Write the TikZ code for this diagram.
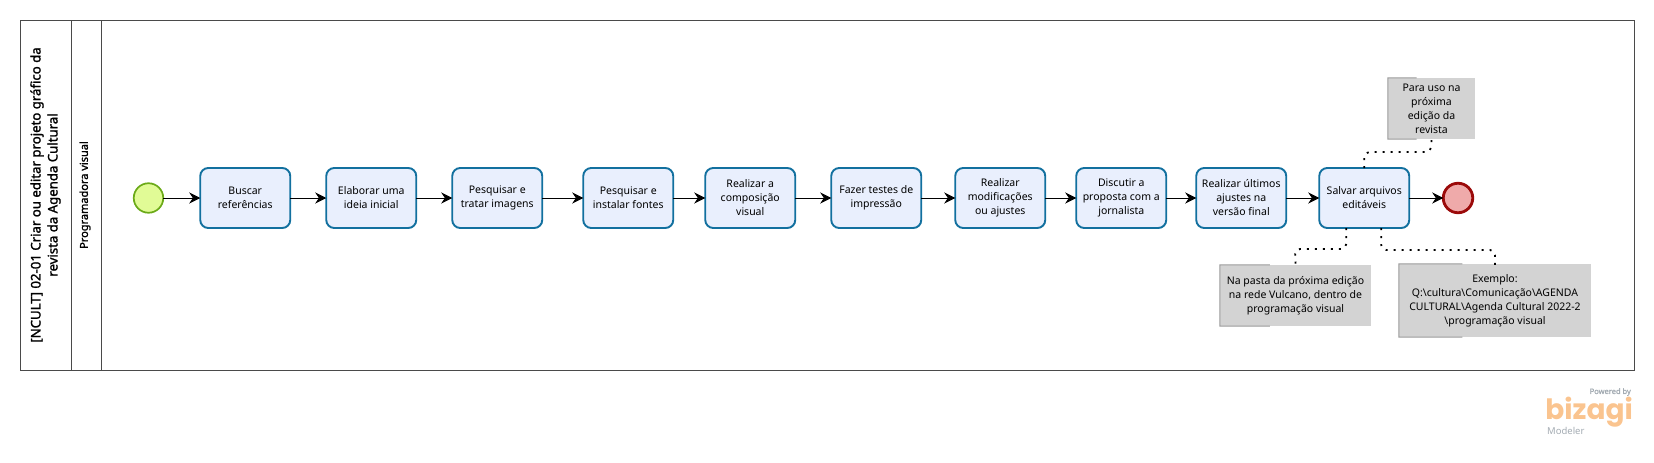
\documentclass[tikz,border=0pt]{standalone}
\usepackage{fontspec}
\setmainfont{Noto Sans}
\newfontfamily\headfont{Noto Sans}[FakeBold=1.6]
\newfontfamily\logofont{Poppins}
\usetikzlibrary{calc,arrows.meta,positioning}

\definecolor{taskfill}{HTML}{E9EFFD}
\definecolor{taskline}{HTML}{12709F}
\definecolor{startfill}{HTML}{E1FB96}
\definecolor{startline}{HTML}{6BAA18}
\definecolor{endfill}{HTML}{EFAAAA}
\definecolor{endline}{HTML}{9B0A0A}
\definecolor{notefill}{HTML}{D3D3D3}
\definecolor{poolline}{HTML}{4A4A4A}
\definecolor{logoorange}{HTML}{FAC48F}
\definecolor{logogrey}{HTML}{A3ABB2}

\tikzset{
    task/.style={draw=taskline, fill=taskfill, line width=1.9pt, rounded corners=8pt,
                 minimum width=90pt, minimum height=60pt, inner sep=0pt, outer sep=0pt, align=center,
                 font=\fontsize{10.5}{14}\selectfont},
    startevent/.style={circle, draw=startline, fill=startfill, line width=1.7pt, minimum size=29.5pt, inner sep=0pt, outer sep=0pt},
    endevent/.style={circle, draw=endline, fill=endfill, line width=2.8pt, minimum size=29.5pt, inner sep=0pt, outer sep=0pt},
    note/.style={fill=notefill, inner sep=0pt, align=center, font=\fontsize{10.5}{14}\selectfont},
    flow/.style={draw=black, line width=1pt, -{Stealth[length=11pt,width=11pt]}},
    notelink/.style={line width=1.8pt, dash pattern=on 2pt off 6pt, rounded corners=5pt},
    pool/.style={draw=poolline, line width=1pt}
}

\begin{document}
\begin{tikzpicture}[x=1pt, y=-1pt]
    \useasboundingbox (0,0) rectangle (1654,463);

    % pool and lane
    \node[pool, minimum width=1614pt, minimum height=350pt, inner sep=0pt] (poolbox) at (827,195) {};
    \coordinate (divone) at (71,20);
    \coordinate (divtwo) at (101,20);
    \draw[pool] (divone) -- (divone |- poolbox.south);
    \draw[pool] (divtwo) -- (divtwo |- poolbox.south);
    \node[rotate=90, align=center, font=\fontsize{13.2}{17}\selectfont\headfont] (pooltitle) at (45.5,195)
        {[NCULT] 02-01 Criar ou editar projeto gráfico da\\revista da Agenda Cultural};
    \node[rotate=90, font=\fontsize{11}{12}\selectfont\headfont] (lanetitle) at (85,195) {Programadora visual};

    % process
    \node[startevent] (start) at (148.5,198) {};
    \node[task, right=37pt of start] (buscar) {Buscar\\referências};
    \node[task, right=36pt of buscar] (elaborar) {Elaborar uma\\ideia inicial};
    \node[task, right=36pt of elaborar] (tratar) {Pesquisar e\\tratar imagens};
    \node[task, right=41pt of tratar] (fontes) {Pesquisar e\\instalar fontes};
    \node[task, right=32pt of fontes] (compor) {Realizar a\\composição\\visual};
    \node[task, right=36pt of compor] (testes) {Fazer testes de\\impressão};
    \node[task, right=34pt of testes] (ajustes) {Realizar\\modificações\\ou ajustes};
    \node[task, right=31pt of ajustes] (discutir) {Discutir a\\proposta com a\\jornalista};
    \node[task, right=30pt of discutir] (ultimos) {Realizar últimos\\ajustes na\\versão final};
    \node[task, right=33pt of ultimos] (salvar) {Salvar arquivos\\editáveis};
    \node[endevent, right=34pt of salvar] (end) {};

    \foreach \from/\to in {start/buscar, buscar/elaborar, elaborar/tratar, tratar/fontes,
                           fontes/compor, compor/testes, testes/ajustes, ajustes/discutir,
                           discutir/ultimos, ultimos/salvar, salvar/end}
        \draw[flow] (\from) -- (\to);

    % annotations
    \node[note, minimum width=87pt, minimum height=61pt] (noteuso) at (1431.5,108.5)
        {Para uso na\\próxima\\edição da\\revista};
    \node[note, minimum width=151pt, minimum height=61pt] (notepasta) at (1295.5,295.5)
        {Na pasta da próxima edição\\na rede Vulcano, dentro de\\programação visual};
    \node[note, minimum width=192pt, minimum height=73pt] (noteexemplo) at (1495,300.5)
        {Exemplo:\\Q:\textbackslash cultura\textbackslash Comunicação\textbackslash AGENDA\\CULTURAL\textbackslash Agenda Cultural 2022-2\\\textbackslash programação visual};

    \foreach \n in {noteuso, notepasta, noteexemplo}
        \draw[draw=gray!80, line width=1pt] ($(\n.north west)!0.33!(\n.north east)$) -- (\n.north west)
            -- (\n.south west) -- ($(\n.south west)!0.33!(\n.south east)$);

    \coordinate (bendone) at (1431,152);
    \coordinate (bendtwo) at (1295,249);
    \coordinate (bendthree) at (1495,250);
    \draw[notelink] (salvar.north) |- (bendone) -- (noteuso.south);
    \draw[notelink] ([xshift=-18pt]salvar.south) |- (bendtwo) -- (notepasta.north);
    \draw[notelink] ([xshift=17pt]salvar.south) |- (bendthree) -- ([yshift=-6pt]noteexemplo.north);

    % logo
    \node[anchor=east, inner sep=0pt, text=logogrey, font=\fontsize{7.5}{8}\selectfont\headfont] (powered) at (1631,392) {Powered by};
    \node[anchor=east, inner sep=0pt, text=logoorange, font=\fontsize{28}{28}\selectfont\logofont\bfseries] (bizagi) at (1633,412) {bizagi};
    \node[anchor=west, inner sep=0pt, text=logogrey, font=\fontsize{9.5}{10}\selectfont] (modeler) at (1547,431) {Modeler};
\end{tikzpicture}
\end{document}
